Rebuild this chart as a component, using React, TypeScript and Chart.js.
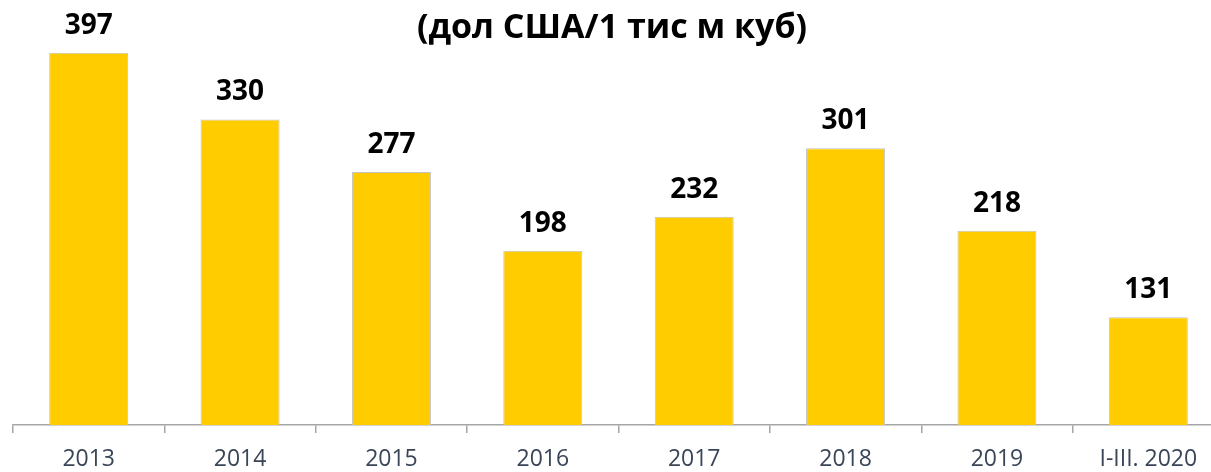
import { useEffect, useRef } from 'react';
import { Chart, registerables } from 'chart.js';
Chart.register(...registerables);

const categories = ['2013', '2014', '2015', '2016', '2017', '2018', '2019', 'I-III. 2020'];
const prices = [397, 330, 277, 198, 232, 301, 218, 131];
const titleText = '(дол США/1 тис м куб)';
const yMin = 22.7;
const yMax = 440;

export default function App() {
  const ref = useRef<HTMLCanvasElement>(null);
  useEffect(() => {
    if (!ref.current) return;
    const labelPlugin = {
      id: 'valueLabels',
      afterDatasetsDraw(chart: any) {
        const ctx = chart.ctx;
        const meta = chart.getDatasetMeta(0);
        ctx.save();
        ctx.fillStyle = '#000000';
        ctx.textAlign = 'center';
        ctx.textBaseline = 'middle';
        ctx.font = 'bold 28px "Open Sans"';
        meta.data.forEach((bar: any, i: number) => {
          ctx.fillText(String(prices[i]), bar.x, bar.y - 27);
        });
        ctx.font = 'bold 34px "Open Sans"';
        ctx.fillText(titleText, chart.width / 2, 28);
        ctx.restore();
      },
    };
    const chart = new Chart(ref.current, {
      type: 'bar',
      data: {
        labels: categories,
        datasets: [
          {
            data: prices,
            backgroundColor: '#FFCC00',
            borderColor: '#c4c4c4',
            borderWidth: 1,
            categoryPercentage: 1,
            barPercentage: 0.522,
          },
        ],
      },
      options: {
        animation: false,
        responsive: true,
        maintainAspectRatio: false,
        layout: { padding: { left: 13, right: 0, top: 10, bottom: 0 } },
        plugins: { legend: { display: false }, tooltip: { enabled: false }, title: { display: false } },
        scales: {
          x: {
            afterFit: (scale: any) => {
              scale.height = 47;
            },
            grid: { offset: true, drawOnChartArea: false, drawTicks: true, tickLength: 8, color: '#a6a6a6', lineWidth: 1.5 },
            border: { color: '#a6a6a6', width: 1.5 },
            ticks: { padding: 13, color: '#3a4658', font: { family: '"Open Sans"', size: 23 } },
          },
          y: { display: false, min: yMin, max: yMax },
        },
      },
      plugins: [labelPlugin],
    });
    return () => chart.destroy();
  }, []);
  return (
    <div style={{ position: 'fixed', left: 0, top: 0, width: 1224, height: 472, background: '#fff' }}>
      <canvas ref={ref} />
    </div>
  );
}
